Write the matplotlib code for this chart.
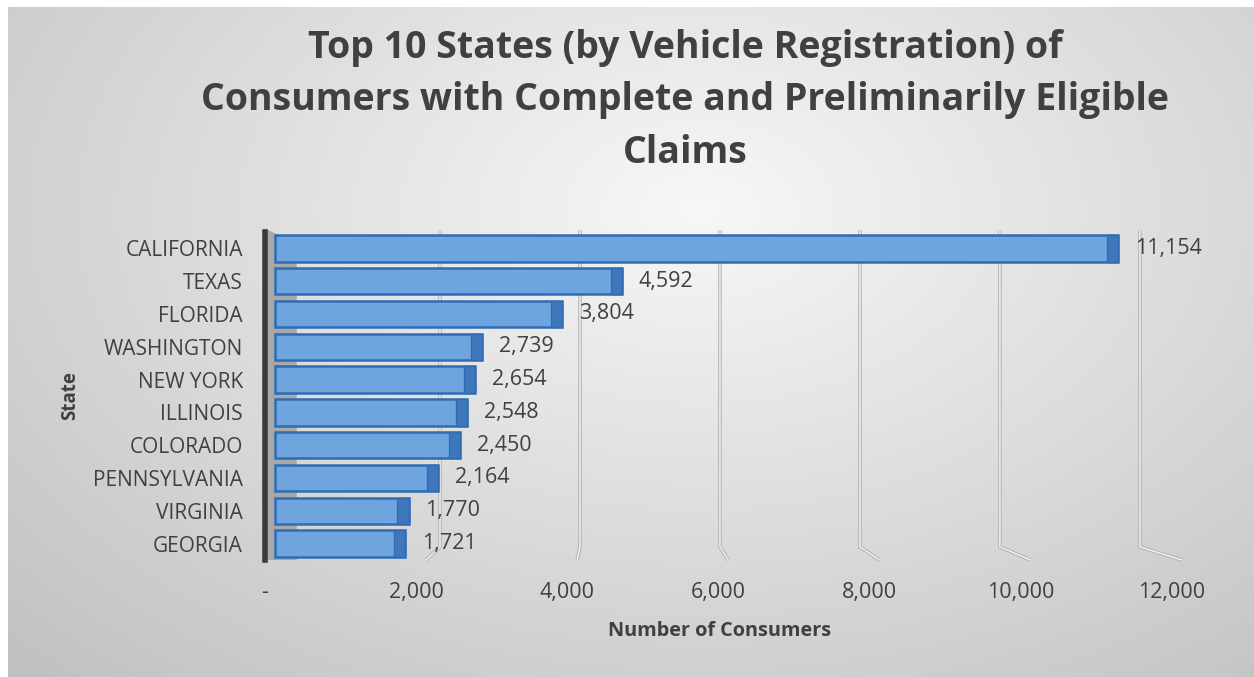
import matplotlib
matplotlib.use("Agg")
import matplotlib.pyplot as plt
import numpy as np
from matplotlib.patches import Polygon

plt.rcParams['font.family'] = ['Open Sans', 'DejaVu Sans']

# data
states = ["CALIFORNIA", "TEXAS", "FLORIDA", "WASHINGTON", "NEW YORK",
          "ILLINOIS", "COLORADO", "PENNSYLVANIA", "VIRGINIA", "GEORGIA"]
consumers = [11154, 4592, 3804, 2739, 2654, 2548, 2450, 2164, 1770, 1721]
xticks = [0, 2000, 4000, 6000, 8000, 10000, 12000]
xtick_labels = ["-", "2,000", "4,000", "6,000", "8,000", "10,000", "12,000"]

title_lines = ["Top 10 States (by Vehicle Registration) of",
               "Consumers with Complete and Preliminarily Eligible",
               "Claims"]

W, H = 1254, 677
fig = plt.figure(figsize=(W / 100, H / 100), dpi=100, facecolor='white')

# gradient background of the chart area
bg = fig.add_axes([8 / W, 0, 1 - 8 / W, 1 - 7 / H], zorder=-10)
yy, xx = np.mgrid[0:200, 0:370]
r = np.sqrt(((xx - 205) / 260.0) ** 2 + ((yy - 60) / 170.0) ** 2)
shade = np.clip(0.97 - 0.19 * r, 0.74, 0.97)
bg.imshow(np.dstack([shade] * 3), aspect='auto', interpolation='bicubic')
bg.axis('off')

ax = fig.add_axes([265 / W, 1 - 560 / H, (1172 - 265) / W, (560 - 232) / H])
ax.set_facecolor('none')

y = np.arange(len(states))
ax.set_xlim(0, 12000)
ax.set_ylim(len(states) - 0.5, -0.5)

# back wall gridlines (perspective shifted), folding to front tick at bottom
for t in xticks[1:]:
    back = 463 + 0.926 * t
    gx = [back, back, t + 130]
    gy = [-0.55, 9.1, 9.5]
    ax.plot(gx, gy, color='#b5b5b5', lw=2.6, zorder=1, clip_on=False,
            solid_capstyle='butt')
    ax.plot(gx, gy, color='#f4f4f4', lw=1.0, zorder=1, clip_on=False,
            solid_capstyle='butt')

# side wall
wall = Polygon([(0, -0.6), (420, -0.15), (420, 9.5), (0, 9.5)],
               closed=True, facecolor='#a8a8a8', edgecolor='none', zorder=2,
               clip_on=False)
ax.add_patch(wall)

h = 0.8
ax.barh(y, consumers, height=h, left=130, color='#6fa5df',
        edgecolor='#2f6cb3', linewidth=1.8, zorder=3)
ax.barh(y, [150] * len(y), height=h, left=np.array(consumers) - 20,
        color='#3e78bb', edgecolor='#2f6cb3', linewidth=1.0, zorder=3)

for yi, v in zip(y, consumers):
    ax.annotate(f"{v:,}", xy=(v + 130, yi), xytext=(12, 0),
                textcoords='offset points', va='center', ha='left',
                fontsize=15.5, color='#404040', zorder=5)

ax.set_yticks(y)
ax.set_yticklabels(states, fontsize=15, color='#404040')
ax.set_xticks(xticks)
ax.set_xticklabels(xtick_labels, fontsize=15.5, color='#404040')
ax.tick_params(axis='y', length=0, pad=16)
ax.tick_params(axis='x', length=0, pad=16)

for s in ['top', 'right', 'bottom']:
    ax.spines[s].set_visible(False)
ax.spines['left'].set_color('#3a3a3a')
ax.spines['left'].set_linewidth(4)
ax.spines['left'].set_zorder(4)

fig.text(720 / W, 1 - 631 / H, "Number of Consumers", ha='center',
         va='center', fontsize=14.3, fontweight='bold', color='#404040')
fig.text(70 / W, 1 - 396 / H, "State", ha='center', va='center',
         rotation=90, fontsize=13.5, fontweight='bold', color='#404040')

for line, ty in zip(title_lines, [48, 100, 153]):
    fig.text(685 / W, 1 - ty / H, line, ha='center', va='center',
             fontsize=27, fontweight='bold', color='#404040')

fig.savefig("out.png", dpi=100, facecolor=fig.get_facecolor())
